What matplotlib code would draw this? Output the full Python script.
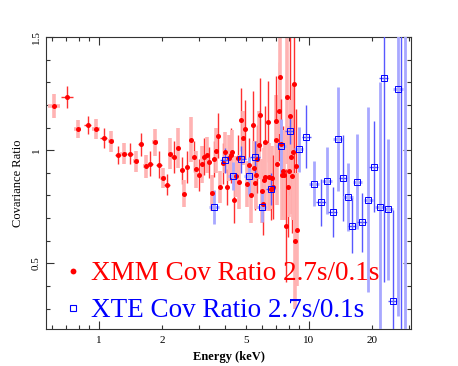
import matplotlib
import numpy as np
from matplotlib import pyplot as plt
from matplotlib.lines import Line2D
from matplotlib.ticker import FixedLocator, FixedFormatter, NullFormatter

matplotlib.use("Agg")

# XMM covariance ratio (energy keV, ratio, y error, fractional x half width)
xmm_energy = [0.612, 0.706, 0.792, 0.883, 0.971, 1.056, 1.14, 1.23, 1.31, 1.405,
              1.50, 1.58, 1.67, 1.76, 1.85, 1.93, 2.02, 2.11, 2.19, 2.28,
              2.38, 2.48, 2.55, 2.64, 2.74, 2.83, 2.90, 3.00, 3.09, 3.18,
              3.27, 3.35, 3.45, 3.54, 3.62, 3.70, 3.78, 3.89, 3.98, 4.07,
              4.16, 4.25, 4.30, 4.41, 4.51, 4.59, 4.66, 4.76, 4.86, 4.96,
              5.05, 5.16, 5.30, 5.39, 5.45, 5.52, 5.60, 5.68, 5.77, 5.83,
              5.95, 6.02, 6.10, 6.19, 6.20, 6.36, 6.45, 6.56, 6.67, 6.76,
              6.93, 6.98, 7.06, 7.18, 7.28, 7.36, 7.45, 7.55, 7.60, 7.77,
              7.85, 7.93, 8.00, 8.12, 8.20, 8.30, 8.40, 8.51, 8.56, 8.63, 8.77]
xmm_ratio = [1.196, 1.236, 1.095, 1.111, 1.093, 1.053, 1.039, 0.977, 0.985, 0.985,
             0.950, 1.026, 0.928, 0.940, 1.035, 0.936, 0.877, 0.848, 0.985, 0.969,
             1.010, 0.912, 0.808, 0.925, 1.047, 0.972, 0.915, 0.889, 0.937, 0.972,
             0.977, 0.946, 0.810, 0.962, 0.997, 1.064, 0.836, 0.942, 0.991, 0.838,
             0.966, 0.977, 0.990, 0.780, 0.885, 0.965, 0.860, 1.135, 1.053, 1.092,
             0.850, 0.935, 0.800, 1.110, 0.920, 0.854, 0.890, 0.960, 1.023, 1.157,
             0.820, 0.764, 0.870, 1.035, 0.882, 1.126, 0.883, 0.830, 0.879, 0.838,
             1.045, 1.127, 0.937, 1.171, 1.323, 1.028, 0.890, 0.908, 0.890, 0.667,
             1.237, 0.838, 0.907, 1.152, 0.970, 0.885, 0.990, 1.293, 0.600, 0.930, 0.648]
xmm_err = [0.053, 0.048, 0.040, 0.040, 0.045, 0.045, 0.045, 0.040, 0.045, 0.045,
           0.045, 0.050, 0.050, 0.055, 0.060, 0.060, 0.045, 0.045, 0.070, 0.070,
           0.090, 0.060, 0.060, 0.070, 0.100, 0.070, 0.080, 0.070, 0.080, 0.080,
           0.080, 0.070, 0.080, 0.080, 0.100, 0.100, 0.070, 0.090, 0.090, 0.080,
           0.100, 0.120, 0.100, 0.100, 0.090, 0.100, 0.120, 0.140, 0.120, 0.130,
           0.100, 0.120, 0.120, 0.150, 0.120, 0.120, 0.150, 0.150, 0.150, 0.160,
           0.140, 0.140, 0.140, 0.160, 0.150, 0.180, 0.150, 0.140, 0.140, 0.140,
           0.200, 0.200, 0.180, 0.220, 0.250, 0.200, 0.200, 0.200, 0.200, 0.250,
           0.300, 0.220, 0.200, 0.350, 0.250, 0.250, 0.300, 0.400, 0.300, 0.250, 0.250]
xmm_xfrac = [0.065, 0.065, 0.04, 0.04, 0.04, 0.04, 0.035, 0.035, 0.035, 0.035,
             0.03, 0.03, 0.03, 0.03, 0.03, 0.03, 0.03, 0.03, 0.03, 0.03,
             0.025, 0.02, 0.02, 0.02, 0.02, 0.02, 0.02, 0.02, 0.02, 0.02,
             0.02, 0.02, 0.02, 0.02, 0.02, 0.02, 0.02, 0.02, 0.02, 0.02,
             0.02, 0.02, 0.02, 0.02, 0.02, 0.02, 0.02, 0.02, 0.02, 0.02,
             0.02, 0.02, 0.02, 0.02, 0.02, 0.02, 0.02, 0.02, 0.02, 0.02,
             0.02, 0.02, 0.02, 0.02, 0.02, 0.02, 0.02, 0.02, 0.02, 0.02,
             0.02, 0.02, 0.02, 0.02, 0.02, 0.02, 0.02, 0.02, 0.02, 0.02,
             0.02, 0.02, 0.02, 0.02, 0.02, 0.02, 0.02, 0.02, 0.02, 0.02, 0.02]

# XTE covariance ratio
xte_energy = [3.55, 3.97, 4.36, 4.76, 5.16, 5.55, 5.95, 6.56, 7.36, 8.10,
              8.95, 9.73, 10.6, 11.4, 12.2, 13.0, 13.7, 14.6, 15.4, 16.1,
              17.0, 17.9, 19.2, 20.3, 21.7, 22.7, 23.9, 25.2, 26.6, 27.4, 28.5]
xte_ratio = [0.751, 0.955, 0.886, 0.959, 0.885, 0.971, 0.751, 0.828, 1.018, 1.086,
             1.003, 1.060, 0.852, 0.769, 0.866, 0.728, 1.048, 0.876, 0.795, 0.667,
             0.861, 0.681, 0.782, 0.927, 0.751, 1.317, 0.738, 0.335, 1.269, 1.70, 0.10]
xte_err = [0.075, 0.055, 0.060, 0.060, 0.085, 0.070, 0.070, 0.070, 0.120, 0.060,
           0.100, 0.140, 0.100, 0.105, 0.150, 0.110, 0.230, 0.190, 0.150, 0.120,
           0.210, 0.130, 0.410, 0.200, 0.550, 0.900, 0.310, 0.400, 1.000, 1.500, 1.500]
xte_xerr = [0.20, 0.21, 0.23, 0.25, 0.27, 0.29, 0.31, 0.34, 0.38, 0.42,
            0.46, 0.50, 0.55, 0.59, 0.63, 0.67, 0.71, 0.76, 0.80, 0.84,
            0.88, 0.93, 1.00, 1.05, 1.13, 1.18, 1.24, 1.31, 1.38, 1.42, 1.48]

x_ticks_major = [1, 10]
x_ticks_minor = [0.6, 0.7, 0.8, 0.9, 2, 3, 4, 5, 6, 7, 8, 9, 20, 30]
x_minor_labels = ["", "", "", "", "2", "", "", "5", "", "", "", "", "20", ""]
y_ticks_major = [0.5, 1.0, 1.5]
y_tick_labels = ["0.5", "1", "1.5"]
y_ticks_minor = [0.3, 0.4, 0.6, 0.7, 0.8, 0.9, 1.1, 1.2, 1.3, 1.4]

plt.rcParams["font.family"] = ["Liberation Serif", "DejaVu Serif"]

fig = plt.figure(figsize=(4.58, 3.66), dpi=100)
ax = fig.add_axes([0.1004, 0.101, 0.797, 0.798])

# pink and red error bars alternate between points
for idx in range(len(xmm_energy)):
    if idx % 2 == 0:
        ecol, elw = "#ffb3b3", 2.6
    else:
        ecol, elw = "#ff3030", 1.0
    ax.errorbar(xmm_energy[idx], xmm_ratio[idx], yerr=xmm_err[idx],
                xerr=xmm_xfrac[idx] * xmm_energy[idx],
                fmt="none", ecolor=ecol, elinewidth=elw, capsize=0, zorder=2)
ax.plot(xmm_energy, xmm_ratio, "o", color="red", ms=3.6, mew=0, zorder=4)

for idx in range(len(xte_energy)):
    if idx % 2 == 0:
        ecol, elw = "#a8a8ff", 2.0
    else:
        ecol, elw = "#5858ff", 1.0
    ax.errorbar(xte_energy[idx], xte_ratio[idx], yerr=xte_err[idx], xerr=xte_xerr[idx],
                fmt="none", ecolor=ecol, elinewidth=elw, capsize=0, zorder=3)
ax.plot(xte_energy, xte_ratio, "s", mfc="none", mec="blue", mew=0.7, ms=4.3, zorder=5)

ax.set_xscale("log")
ax.set_xlim(0.56, 30.6)
ax.set_ylim(0.21, 1.5)

ax.xaxis.set_major_locator(FixedLocator(x_ticks_major))
ax.xaxis.set_major_formatter(FixedFormatter(["1", "10"]))
ax.xaxis.set_minor_locator(FixedLocator(x_ticks_minor))
ax.xaxis.set_minor_formatter(FixedFormatter(x_minor_labels))
ax.yaxis.set_major_locator(FixedLocator(y_ticks_major))
ax.yaxis.set_major_formatter(FixedFormatter(y_tick_labels))
ax.yaxis.set_minor_locator(FixedLocator(y_ticks_minor))
ax.yaxis.set_minor_formatter(NullFormatter())

ax.tick_params(which="both", direction="in", top=True, right=True, labelsize=8, width=0.8, color="#333333")
ax.tick_params(which="major", length=6)
ax.tick_params(which="minor", length=3)
ax.tick_params(axis="x", which="both", pad=5)
for lab in ax.get_yticklabels():
    lab.set_rotation(90)
    lab.set_va("center")
for spine in ax.spines.values():
    spine.set_linewidth(0.8)
    spine.set_color("#333333")

ax.set_xlabel("Energy (keV)", fontsize=9, fontweight="bold", labelpad=4)
ax.set_ylabel("Covariance Ratio", fontsize=9, labelpad=6)

handles = [
    Line2D([], [], marker="o", color="red", ls="none", ms=4.2, mew=0),
    Line2D([], [], marker="s", mfc="none", mec="blue", ls="none", ms=4.8, mew=0.8),
]
leg = ax.legend(handles, ["XMM Cov Ratio 2.7s/0.1s", "XTE Cov Ratio 2.7s/0.1s"],
                loc="lower left", bbox_to_anchor=(0.0, -0.045), frameon=False, fontsize=19.5,
                handlelength=0.6, handletextpad=0.35, labelspacing=0.44, borderaxespad=0.3)
leg.get_texts()[0].set_color("red")
leg.get_texts()[1].set_color("blue")

fig.savefig("out.png", dpi=100)
